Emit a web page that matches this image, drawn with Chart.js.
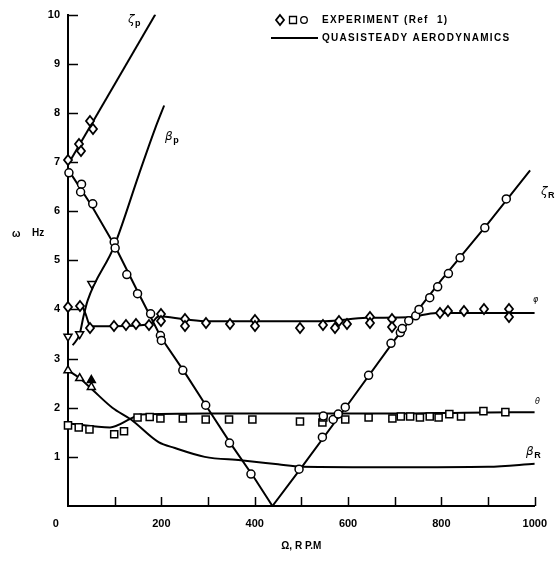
<!DOCTYPE html>
<html><head><meta charset="utf-8">
<script src="https://cdn.jsdelivr.net/npm/chart.js@4/dist/chart.umd.min.js"></script>
<style>html,body{margin:0;padding:0;background:#fff}#wrap{width:558px;height:564px}</style>
</head><body><div id="wrap"><canvas id="c" width="558" height="564"></canvas></div>
<script>
// ---------- data (Ω in RPM, frequency ω in Hz) ----------
// Quasisteady aerodynamics curves
const zetaPOmega = [0, 187];
const zetaPFreq  = [6.95, 10.0];
const betaPOmega = [10, 25, 33, 42, 99, 152, 187, 206];
const betaPFreq  = [3.27, 3.5, 3.85, 4.18, 5.29, 6.75, 7.69, 8.15];
const zetaRDownOmega = [0, 50, 100, 150, 200, 250, 300, 350, 400, 438];
const zetaRDownFreq  = [6.85, 6.12, 5.3, 4.35, 3.42, 2.72, 1.98, 1.25, 0.56, 0];
const zetaRUpOmega = [438, 500, 600, 700, 800, 900, 990];
const zetaRUpFreq  = [0, 0.78, 2.07, 3.38, 4.6, 5.75, 6.83];
const phiOmega = [30, 38, 48, 100, 175, 195, 250, 300, 550, 640, 730, 790, 1000];
const phiFreq  = [4.08, 3.9, 3.66, 3.66, 3.7, 3.86, 3.8, 3.76, 3.76, 3.83, 3.84, 3.93, 3.93];
const thetaOmega = [0, 90, 135, 155, 300, 700, 850, 1000];
const thetaFreq  = [1.68, 1.6, 1.78, 1.86, 1.88, 1.88, 1.9, 1.91];
const betaROmega = [0, 25, 53, 95, 135, 194, 229, 293, 370, 450, 500, 700, 900, 1000];
const betaRFreq  = [2.76, 2.6, 2.36, 2.0, 1.76, 1.3, 1.18, 1.0, 0.93, 0.85, 0.8, 0.79, 0.8, 0.86];

// Experiment (Ref 1)
const diamondOmega = [0, 24, 27, 48, 53,
  0, 25, 48, 99, 124, 146, 173, 200, 200, 250, 250, 295, 348, 400, 400,
  497, 547, 573, 581, 597, 646, 646, 695, 695, 797, 815, 848, 891, 945, 945];
const diamondFreq  = [7.05, 7.36, 7.22, 7.84, 7.67,
  4.05, 4.08, 3.63, 3.67, 3.69, 3.7, 3.69, 3.9, 3.77, 3.81, 3.67, 3.73, 3.71, 3.78, 3.67,
  3.62, 3.69, 3.62, 3.76, 3.71, 3.84, 3.72, 3.81, 3.65, 3.93, 3.97, 3.96, 4.0, 4.0, 3.85];
const circleOmega = [2, 29, 27, 53, 99, 101, 126, 149, 177, 198, 200, 246, 295, 346, 392,
  495, 545, 547, 568, 579, 594, 644, 692, 712, 716, 730, 745, 752, 775, 792, 815, 840, 893, 939];
const circleFreq  = [6.78, 6.55, 6.39, 6.15, 5.37, 5.25, 4.71, 4.32, 3.91, 3.47, 3.37, 2.76, 2.05, 1.28, 0.65,
  0.75, 1.4, 1.83, 1.76, 1.87, 2.01, 2.66, 3.31, 3.53, 3.61, 3.77, 3.87, 4.0, 4.24, 4.46, 4.73, 5.05, 5.66, 6.25];
const squareOmega = [0, 23, 46, 99, 120, 149, 175, 198, 246, 295, 345, 395, 497, 545, 547, 594, 644,
  695, 713, 733, 754, 775, 794, 817, 842, 890, 937];
const squareFreq  = [1.64, 1.6, 1.56, 1.46, 1.52, 1.8, 1.81, 1.78, 1.78, 1.76, 1.76, 1.76, 1.72, 1.7, 1.8, 1.76, 1.8,
  1.78, 1.82, 1.82, 1.8, 1.82, 1.8, 1.87, 1.82, 1.93, 1.91];
const triUpOmega = [0, 25, 50];
const triUpFreq  = [2.76, 2.6, 2.42];
const triUpFilledOmega = [50];
const triUpFilledFreq  = [2.56];
const triDownOmega = [0, 25, 51];
const triDownFreq  = [3.45, 3.5, 4.52];

const xTicks = [0, 200, 400, 600, 800, 1000];
const yTicks = [1, 2, 3, 4, 5, 6, 7, 8, 9, 10];

// ---------- helpers ----------
const pts = (xs, ys) => xs.map((x, i) => ({x: x, y: ys[i]}));
function diamondImg(w, h, lw) {
  const c = document.createElement('canvas');
  c.width = w + 4; c.height = h + 4;
  const g = c.getContext('2d');
  const cx = c.width / 2, cy = c.height / 2;
  g.beginPath();
  g.moveTo(cx, cy - h / 2); g.lineTo(cx + w / 2, cy); g.lineTo(cx, cy + h / 2); g.lineTo(cx - w / 2, cy);
  g.closePath();
  g.fillStyle = '#fff'; g.fill();
  g.lineWidth = lw; g.strokeStyle = '#000'; g.lineJoin = 'miter'; g.stroke();
  return c;
}
const DIAMOND = diamondImg(8, 10, 1.8);

const FONT = "'Liberation Sans', Arial, sans-serif";
Chart.defaults.font.family = FONT;
Chart.defaults.font.weight = 'bold';
Chart.defaults.color = '#000';

function curve(label, xs, ys, mono) {
  return {label, data: pts(xs, ys), showLine: true, borderColor: '#000', borderWidth: 2,
    pointRadius: 0, pointHoverRadius: 0, fill: false, order: 2,
    tension: mono ? 0.4 : 0, cubicInterpolationMode: mono ? 'monotone' : 'default'};
}
function marks(label, xs, ys, style, radius, extra) {
  return Object.assign({label, data: pts(xs, ys), showLine: false, pointStyle: style,
    pointRadius: radius, pointHoverRadius: radius, backgroundColor: '#fff', borderColor: '#000',
    pointBorderWidth: 1.5, borderWidth: 1.5, order: 0, clip: false}, extra || {});
}

const decor = {
  id: 'decor',
  beforeDatasetsDraw(chart) {
    const {ctx, chartArea: a, scales: {x, y}} = chart;
    ctx.save();
    ctx.strokeStyle = '#000'; ctx.lineWidth = 1.5;
    ctx.beginPath();
    for (let v = 100; v <= 1000; v += 100) {
      const px = Math.round(x.getPixelForValue(v)) + 0.5;
      ctx.moveTo(px, a.bottom); ctx.lineTo(px, a.bottom - 9);
    }
    yTicks.forEach(v => {
      const py = Math.round(y.getPixelForValue(v)) + 0.5;
      ctx.moveTo(a.left, py); ctx.lineTo(a.left + 10, py);
    });
    ctx.stroke();
    ctx.restore();
    ctx.imageSmoothingEnabled = false;
  },
  afterDatasetsDraw(chart) { chart.ctx.imageSmoothingEnabled = true; },
  afterDraw(chart) {
    const ctx = chart.ctx;
    ctx.save();
    ctx.fillStyle = '#000'; ctx.strokeStyle = '#000';
    // legend
    ctx.imageSmoothingEnabled = false;
    ctx.drawImage(DIAMOND, Math.round(280 - DIAMOND.width / 2), Math.round(20 - DIAMOND.height / 2));
    ctx.imageSmoothingEnabled = true;
    ctx.lineWidth = 1.3;
    ctx.fillStyle = '#fff';
    ctx.beginPath(); ctx.rect(289.5, 16.5, 7, 7); ctx.fill(); ctx.stroke();
    ctx.beginPath(); ctx.arc(304, 20, 3.3, 0, Math.PI * 2); ctx.fill(); ctx.stroke();
    ctx.lineWidth = 2;
    ctx.beginPath(); ctx.moveTo(271, 38); ctx.lineTo(318, 38); ctx.stroke();
    ctx.fillStyle = '#000';
    ctx.font = 'bold 10px ' + FONT;
    try { ctx.letterSpacing = '1.3px'; } catch (e) {}
    ctx.textBaseline = 'middle'; ctx.textAlign = 'left';
    ctx.fillText('EXPERIMENT (Ref  1)', 322, 20);
    ctx.fillText('QUASISTEADY AERODYNAMICS', 322, 38);
    try { ctx.letterSpacing = '0px'; } catch (e) {}
    // y-axis title (horizontal)
    ctx.font = 'bold 10px ' + FONT;
    ctx.fillText('\u03c9', 12, 234);
    ctx.fillText('Hz', 32, 233);
    // curve labels
    ctx.textBaseline = 'alphabetic';
    const greek = "italic 12px 'DejaVu Sans', sans-serif";
    const sub = 'bold 9px ' + FONT;
    function lab(g, s, x, yb) {
      ctx.font = greek; ctx.fillText(g, x, yb);
      const w = ctx.measureText(g).width;
      if (s) { ctx.font = sub; ctx.fillText(s, x + w + 0.5, yb + 3); }
    }
    lab('\u03b6', 'p', 128, 23);
    lab('\u03b2', 'p', 165, 140);
    lab('\u03b6', 'R', 541, 195);
    lab('\u03b2', 'R', 526, 455);
    ctx.font = "italic 8px 'DejaVu Sans', sans-serif";
    ctx.fillText('\u03c6', 533, 302);
    ctx.fillText('\u03b8', 535, 404);
    ctx.restore();
  }
};

new Chart(document.getElementById('c'), {
  type: 'scatter',
  data: {
    datasets: [
      marks('Experiment: diamonds', diamondOmega, diamondFreq, DIAMOND, 5),
      marks('Experiment: circles', circleOmega, circleFreq, 'circle', 4),
      marks('Experiment: squares', squareOmega, squareFreq, 'rect', 5),
      marks('Experiment: triangles', triUpOmega, triUpFreq, 'triangle', 4.6),
      marks('Experiment: filled triangle', triUpFilledOmega, triUpFilledFreq, 'triangle', 4.6, {backgroundColor: '#000'}),
      marks('Experiment: inverted triangles', triDownOmega, triDownFreq, 'triangle', 4.6, {rotation: 180}),
      curve('\u03b6p', zetaPOmega, zetaPFreq, false),
      curve('\u03b2p', betaPOmega, betaPFreq, true),
      curve('\u03b6R (descending)', zetaRDownOmega, zetaRDownFreq, false),
      curve('\u03b6R', zetaRUpOmega, zetaRUpFreq, false),
      curve('\u03c6', phiOmega, phiFreq, true),
      curve('\u03b8', thetaOmega, thetaFreq, true),
      curve('\u03b2R', betaROmega, betaRFreq, true)
    ]
  },
  options: {
    responsive: false,
    devicePixelRatio: 1,
    animation: false,
    events: [],
    layout: {padding: {top: 13, right: 15, bottom: 0, left: 0}},
    plugins: {legend: {display: false}, tooltip: {enabled: false}},
    scales: {
      x: {
        type: 'linear', min: 0, max: 1000,
        afterBuildTicks: s => { s.ticks = xTicks.map(v => ({value: v})); },
        ticks: {font: {size: 11, weight: 'bold'}, color: '#000', padding: 11, maxRotation: 0, autoSkip: false,
          callback: v => (v === 0 ? '0\u2007\u2007\u2007\u2007' : String(v))},
        grid: {display: false, drawTicks: false},
        border: {display: true, color: '#000', width: 2},
        title: {display: true, text: '\u03a9, R P.M', font: {size: 10, weight: 'bold'}, color: '#000',
          padding: {top: 0, bottom: 12}},
        afterFit: s => { s.height = 58; }
      },
      y: {
        type: 'linear', min: 0, max: 10,
        afterBuildTicks: s => { s.ticks = yTicks.map(v => ({value: v})); },
        ticks: {font: {size: 11, weight: 'bold'}, color: '#000', padding: 8, autoSkip: false,
          callback: v => String(v)},
        grid: {display: false, drawTicks: false},
        border: {display: true, color: '#000', width: 2},
        afterFit: s => { s.width = 68; }
      }
    }
  },
  plugins: [decor]
});
</script></body></html>
